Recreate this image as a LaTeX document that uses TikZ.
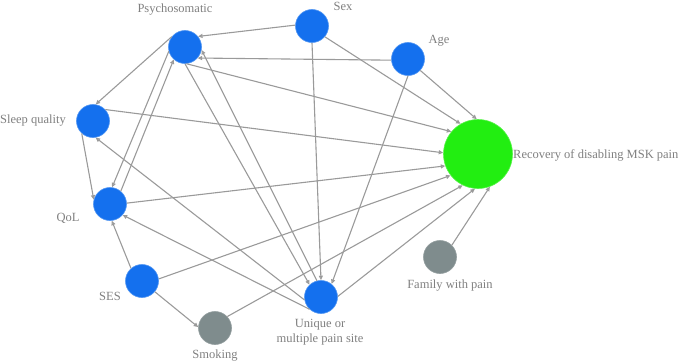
\documentclass[tikz,border=0pt]{standalone}
\usepackage{fontspec}
\setmainfont{Liberation Serif}
\usetikzlibrary{arrows.meta,positioning}
\definecolor{dagblue}{HTML}{1470EE}
\definecolor{daggreen}{HTML}{22EE11}
\definecolor{daggrey}{HTML}{7F8C8D}
\definecolor{dagedge}{HTML}{9A9A9A}
\definecolor{dagtext}{HTML}{808080}

\begin{document}
\begin{tikzpicture}[x=1pt, y=-1pt,
    font=\fontsize{12.5}{14.5}\selectfont,
    factor/.style={circle, fill=dagblue, draw=dagblue!75!white, line width=0.6pt,
      minimum size=33pt, inner sep=0pt},
    outcome/.style={circle, fill=daggreen, draw=daggreen!75!white, line width=0.6pt,
      minimum size=69pt, inner sep=0pt},
    unobserved/.style={circle, fill=daggrey, draw=daggrey!85!white, line width=0.6pt,
      minimum size=33pt, inner sep=0pt},
    tag/.style={text=dagtext, inner sep=0pt, align=center},
    effect/.style={-{Triangle[open, length=4.5pt, width=4pt]}, draw=dagedge, line width=1.1pt}
  ]
    \useasboundingbox (0,0) rectangle (680,364);

    \node[factor] (psy) at (185,47) {};
    \node[factor] (sex) at (312,26) {};
    \node[factor] (age) at (408,59) {};
    \node[factor] (sleep) at (93,121) {};
    \node[outcome] (rec) at (478,154) {};
    \node[factor] (qol) at (110,204) {};
    \node[factor] (ses) at (142,281) {};
    \node[unobserved] (smk) at (215,328) {};
    \node[factor] (uni) at (321,297) {};
    \node[unobserved] (fam) at (440,257) {};

    \node[tag] (psylbl) at (175,10) {Psychosomatic};
    \node[tag] (sexlbl) at (343,6) {Sex};
    \node[tag] (agelbl) at (439,41) {Age};
    \node[tag, anchor=east] (sleeplbl) at (66,121) {Sleep quality};
    \node[tag, anchor=west] (reclbl) at (513,155) {Recovery of disabling MSK pain};
    \node[tag] (qollbl) at (68,218) {QoL};
    \node[tag] (seslbl) at (110,296) {SES};
    \node[tag] (smklbl) at (215,356) {Smoking};
    \node[tag] (unilbl) at (320,332) {Unique or\\multiple pain site};
    \node[tag] (famlbl) at (450,286) {Family with pain};

    \draw[effect] (sex.177) -- (psy.39);
    \draw[effect] (age.184) -- (psy.319);
    \draw[effect] (psy.142) -- (sleep.81);
    \draw[effect] (psy.275) -- (rec.140);
    \draw[effect] (sex.320) -- (rec.120);
    \draw[effect] (age.317) -- (rec.92);
    \draw[effect] (sex.270) -- (uni.90);
    \draw[effect] (age.270) -- (uni.51);
    \draw[effect] (sleep.228) -- (qol.165);
    \draw[effect] (sleep.43) -- (rec.178);
    \draw[effect] (uni.190) -- (sleep.279);
    \draw[effect] (uni.227) -- (qol.319);
    \draw[effect] (qol.3) -- (rec.200);
    \draw[effect] (ses.131) -- (qol.276);
    \draw[effect] (ses.320) -- (smk.177);
    \draw[effect] (ses.7) -- (rec.218);
    \draw[effect] (smk.43) -- (rec.244);
    \draw[effect] (uni.2) -- (rec.265);
    \draw[effect] (fam.45) -- (rec.290);
    \draw[effect] (psy.195) -- (qol.83);
    \draw[effect] (qol.50) -- (psy.228);
    \draw[effect] (psy.270) -- (uni.133);
    \draw[effect] (uni.104) -- (psy.350);
  \end{tikzpicture}
\end{document}
